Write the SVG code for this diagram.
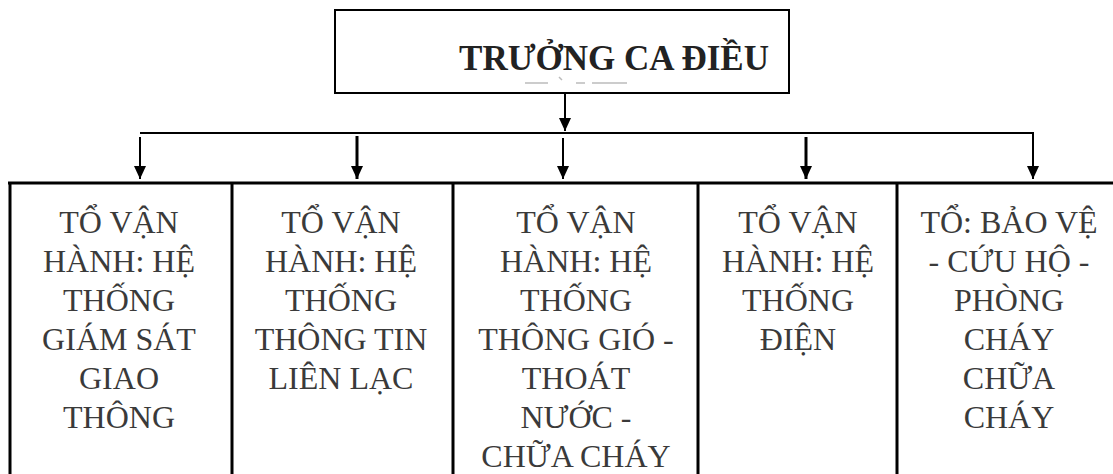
<svg xmlns="http://www.w3.org/2000/svg" width="1113" height="474" viewBox="0 0 1113 474">
<style>
.t{font-family:"Liberation Serif","Times New Roman",serif;font-size:32px;fill:#3a3a3a;text-anchor:middle}
.title{font-family:"Liberation Serif","Times New Roman",serif;font-size:35px;font-weight:bold;fill:#222;text-anchor:middle}
.c{stroke:#000;stroke-width:2;fill:none}
.b{stroke:#000;stroke-width:3;fill:none}
</style>
<defs>
<marker id="ah" markerUnits="userSpaceOnUse" markerWidth="12" markerHeight="14" refX="6" refY="12" orient="auto-start-reverse" viewBox="0 0 12 14">
<path d="M0,0 L12,0 L6,13 Z" fill="#000" transform="rotate(-90 6 6)"/>
</marker>
<marker id="dn" markerUnits="userSpaceOnUse" markerWidth="12" markerHeight="14" refX="6" refY="13" orient="0" viewBox="0 0 12 14">
<path d="M0,0 L12,0 L6,13 Z" fill="#000"/>
</marker>
</defs>
<rect width="1113" height="474" fill="#fff"/>
<g id="title">
<rect x="335" y="10" width="454" height="83" fill="#fff" stroke="#000" stroke-width="2"/>
<text class="title" x="614" y="70">TRƯỞNG CA ĐIỀU</text>
<g stroke="#bbb" stroke-width="1.5">
<line x1="525" y1="83" x2="548" y2="83"/>
<line x1="559" y1="77" x2="562" y2="80"/>
<line x1="576" y1="83" x2="585" y2="83"/>
<line x1="592" y1="83" x2="627" y2="83"/>
</g>
</g>
<g id="connectors">
<line class="c" x1="565" y1="93" x2="565" y2="131" marker-end="url(#dn)"/>
<line class="c" x1="140" y1="133" x2="1034" y2="133"/>
<line class="c" x1="140" y1="137" x2="140" y2="179" marker-end="url(#dn)"/>
<line class="b" x1="357" y1="136" x2="357" y2="179" marker-end="url(#dn)"/>
<line class="c" x1="563" y1="138" x2="563" y2="179" marker-end="url(#dn)"/>
<line class="b" x1="806" y1="137" x2="806" y2="179" marker-end="url(#dn)"/>
<line class="c" x1="1033" y1="132" x2="1033" y2="179" marker-end="url(#dn)"/>
</g>
<g id="frame">
<line class="b" x1="8" y1="183" x2="1113" y2="183"/>
<line class="b" x1="10" y1="182" x2="10" y2="474"/>
<line class="b" x1="232" y1="183" x2="232" y2="474"/>
<line class="b" x1="453" y1="183" x2="453" y2="474"/>
<line class="b" x1="698" y1="183" x2="698" y2="474"/>
<line class="b" x1="897" y1="183" x2="897" y2="474"/>
</g>
<g id="node1">
<text class="t" x="119" y="233">TỔ VẬN</text>
<text class="t" x="119" y="272">HÀNH: HỆ</text>
<text class="t" x="119" y="311">THỐNG</text>
<text class="t" x="119" y="350">GIÁM SÁT</text>
<text class="t" x="119" y="389">GIAO</text>
<text class="t" x="119" y="428">THÔNG</text>
</g>
<g id="node2">
<text class="t" x="341" y="233">TỔ VẬN</text>
<text class="t" x="341" y="272">HÀNH: HỆ</text>
<text class="t" x="341" y="311">THỐNG</text>
<text class="t" x="341" y="350">THÔNG TIN</text>
<text class="t" x="341" y="389">LIÊN LẠC</text>
</g>
<g id="node3">
<text class="t" x="576" y="233">TỔ VẬN</text>
<text class="t" x="576" y="272">HÀNH: HỆ</text>
<text class="t" x="576" y="311">THỐNG</text>
<text class="t" x="576" y="350">THÔNG GIÓ -</text>
<text class="t" x="576" y="389">THOÁT</text>
<text class="t" x="576" y="428">NƯỚC -</text>
<text class="t" x="576" y="467">CHỮA CHÁY</text>
</g>
<g id="node4">
<text class="t" x="798" y="233">TỔ VẬN</text>
<text class="t" x="798" y="272">HÀNH: HỆ</text>
<text class="t" x="798" y="311">THỐNG</text>
<text class="t" x="798" y="350">ĐIỆN</text>
</g>
<g id="node5">
<text class="t" x="1009" y="233">TỔ: BẢO VỆ</text>
<text class="t" x="1009" y="272">- CỨU HỘ -</text>
<text class="t" x="1009" y="311">PHÒNG</text>
<text class="t" x="1009" y="350">CHÁY</text>
<text class="t" x="1009" y="389">CHỮA</text>
<text class="t" x="1009" y="428">CHÁY</text>
</g>
</svg>
